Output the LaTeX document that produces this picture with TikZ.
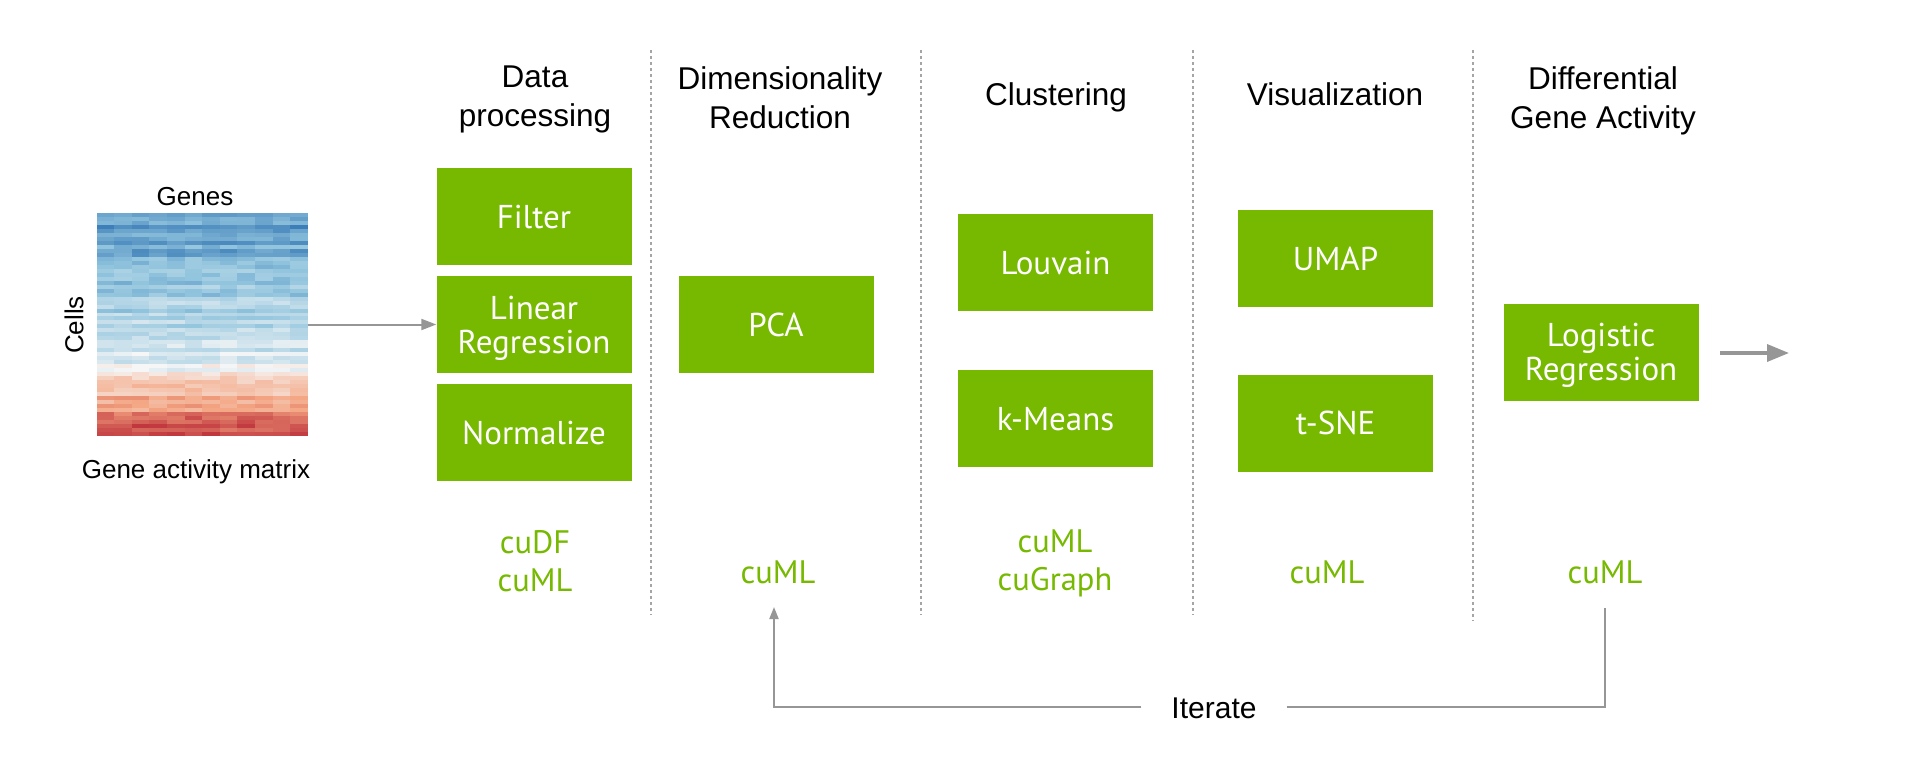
\documentclass[tikz,border=0pt]{standalone}
\usepackage{fontspec}
\setmainfont{Liberation Sans}
\newfontfamily\boxfont{PT Sans}
\usetikzlibrary{arrows.meta}
\definecolor{nvgreen}{RGB}{118,185,0}
\definecolor{arrgray}{RGB}{150,150,150}
\definecolor{sepgray}{RGB}{165,165,165}
\begin{document}
\begin{tikzpicture}[x=1pt,y=-1pt,
  stage/.style={fill=nvgreen, minimum width=195pt, minimum height=97pt, inner sep=0pt, text=white, align=center, text depth=0pt, font=\boxfont\fontsize{33}{34}\selectfont},
  hdr/.style={font=\fontsize{31.5}{39}\selectfont, align=center, anchor=north, inner sep=0pt},
  lib/.style={font=\boxfont\fontsize{32.5}{38}\selectfont, text=nvgreen, align=center, anchor=north, inner sep=0pt},
  sepline/.style={draw=sepgray, line width=1.5pt, dash pattern=on 3pt off 3pt},
  conn/.style={draw=arrgray, line width=2pt},
  lbl/.style={font=\fontsize{26}{28}\selectfont, inner sep=0pt}
]
\useasboundingbox[fill=white] (0,0) rectangle (1920,764);

% heat map
\pgfmathsetseed{11}
\foreach \i in {0,...,55}{
  \pgfmathsetmacro{\hmT}{\i/55}
  \pgfmathsetmacro{\hmB}{\hmT<0.65 ? -0.75+0.9*\hmT : -0.15+(\hmT-0.65)*3.0}
  \pgfmathsetmacro{\hmN}{0.12*rand}
  \foreach \j in {0,...,11}{
    \pgfmathsetmacro{\hmV}{\hmB+\hmN+0.09*rand}
    \pgfmathsetmacro{\hmA}{min(1,abs(\hmV))}
    \pgfmathsetmacro{\hmS}{min(1,2*\hmA)}
    \pgfmathsetmacro{\hmU}{max(0,2*\hmA-1)}
    \pgfmathtruncatemacro{\hmR}{\hmV<0 ? 247-101*\hmS-113*\hmU : 247-3*\hmS-66*\hmU}
    \pgfmathtruncatemacro{\hmG}{\hmV<0 ? 247-50*\hmS-95*\hmU : 247-82*\hmS-141*\hmU}
    \pgfmathtruncatemacro{\hmBl}{\hmV<0 ? 247-25*\hmS-50*\hmU : 247-117*\hmS-87*\hmU}
    \definecolor{hc}{RGB}{\hmR,\hmG,\hmBl}
    \fill[hc] (96.7+\j*17.58,213+\i*3.98) rectangle ++(17.9,4.3);
  }
}
\node[minimum width=211pt, minimum height=223pt, inner sep=0pt] (hm) at (202.2,324.5) {};
\node[lbl] (genes) at (195,197) {Genes};
\node[lbl, rotate=90] (cells) at (74,325) {Cells};
\node[lbl, anchor=base] (gam) at (196,478) {Gene activity matrix};

% separators
\draw[sepline] (651,50) -- (651,615);
\draw[sepline] (921,50) -- (921,615);
\draw[sepline] (1193,50) -- (1193,615);
\draw[sepline] (1473,50) -- (1473,621);

% headers
\node[hdr] (h1) at (535,66) {Data\\processing};
\node[hdr] (h2) at (780,66) {Dimensionality\\Reduction};
\node[hdr] (h3) at (1056,82) {Clustering};
\node[hdr] (h4) at (1335,82) {Visualization};
\node[hdr] (h5) at (1603,66) {Differential\\Gene Activity};

% boxes
\node[stage] (filter) at (534,216.5) {Filter};
\node[stage] (linreg) at (534,324.5) {Linear\\Regression};
\node[stage] (norm) at (534,432.5) {Normalize};
\node[stage] (pca) at (776,324.5) {PCA};
\node[stage] (louvain) at (1055.5,262.5) {Louvain};
\node[stage] (kmeans) at (1055.5,418.5) {k-Means};
\node[stage] (umap) at (1335.5,258.5) {UMAP};
\node[stage] (tsne) at (1335.5,423) {t-SNE};
\node[stage] (logreg) at (1601,352) {Logistic\\Regression};

% libraries
\node[lib] (lib1) at (535,530) {cuDF\\cuML};
\node[lib] (lib2) at (778,561) {cuML};
\node[lib] (lib3) at (1055,530) {cuML\\cuGraph};
\node[lib] (lib4) at (1327,561) {cuML};
\node[lib] (lib5) at (1605,561) {cuML};

% arrows
\draw[conn, -{Triangle[length=15pt,width=11pt]}] (hm.east) -- (linreg.west);
\coordinate (outA) at (1720,353);
\coordinate (outB) at (1789,353);
\draw[draw=arrgray, line width=3.5pt, -{Triangle[length=22pt,width=17pt]}] (outA) -- (outB);

\node[font=\fontsize{30}{31}\selectfont, inner xsep=30pt, inner ysep=0pt] (iter) at (1214,708) {Iterate};
\coordinate (itL) at (774,707);
\coordinate (itTip) at (774,607);
\coordinate (itR) at (1605,707);
\coordinate (itRtop) at (1605,608);
\draw[conn, -{Triangle[length=12pt,width=9pt]}] (iter.west |- itL) -- (itL) -- (itTip);
\draw[conn] (iter.east |- itR) -- (itR) -- (itRtop);
\end{tikzpicture}
\end{document}
